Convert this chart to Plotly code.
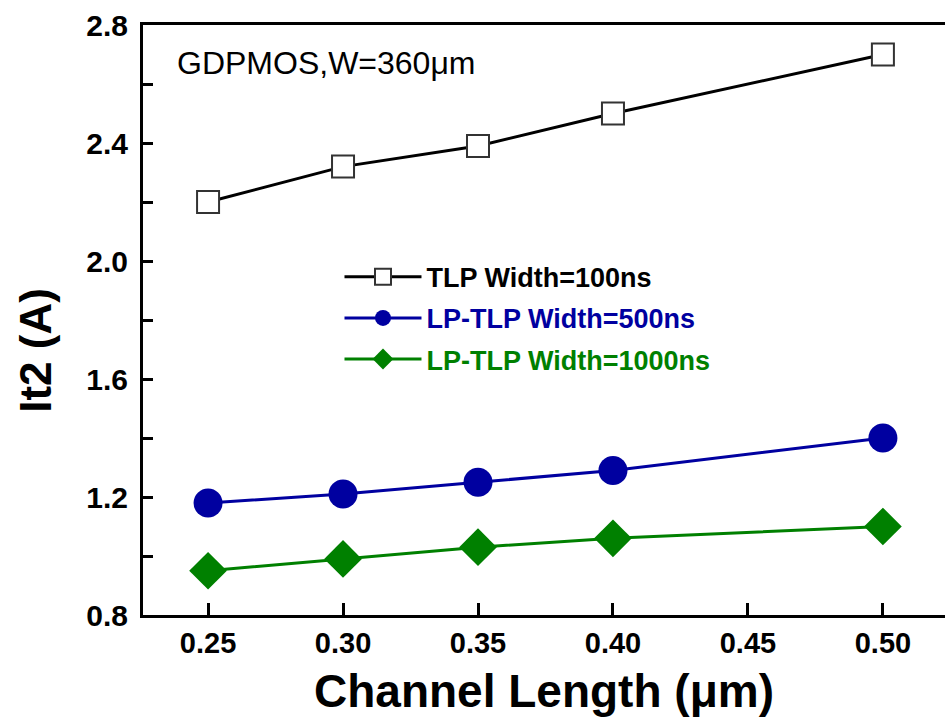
import plotly.graph_objects as go

channel_length = [0.25, 0.30, 0.35, 0.40, 0.50]
tlp_100ns = [2.20, 2.32, 2.39, 2.50, 2.70]
lptlp_500ns = [1.18, 1.21, 1.25, 1.29, 1.40]
lptlp_1000ns = [0.95, 0.99, 1.03, 1.06, 1.10]

names = ["TLP Width=100ns", "LP-TLP Width=500ns", "LP-TLP Width=1000ns"]
colors = ["#000000", "#0000A0", "#008000"]

fig = go.Figure()
fig.add_trace(go.Scatter(
    x=channel_length, y=tlp_100ns, mode="lines+markers",
    name=f'<span style="color:{colors[0]}">{names[0]}</span>', legendgroup="a",
    line=dict(color=colors[0], width=3),
    marker=dict(symbol="square", size=22, color="white", line=dict(color="#333", width=2))))
fig.add_trace(go.Scatter(
    x=channel_length, y=lptlp_500ns, mode="lines+markers",
    name=f'<span style="color:{colors[1]}">{names[1]}</span>', legendgroup="b",
    line=dict(color=colors[1], width=3),
    marker=dict(symbol="circle", size=29, color=colors[1])))
fig.add_trace(go.Scatter(
    x=channel_length, y=lptlp_1000ns, mode="lines+markers",
    name=f'<span style="color:{colors[2]}">{names[2]}</span>', legendgroup="c",
    line=dict(color=colors[2], width=3),
    marker=dict(symbol="diamond", size=29, color=colors[2])))

font_family = "Liberation Sans, Arial, sans-serif"
fig.update_layout(
    width=945, height=724,
    margin=dict(l=143, r=0, t=25, b=109),
    paper_bgcolor="white", plot_bgcolor="white",
    showlegend=True,
    legend=dict(x=0.245, y=0.503, xanchor="left", yanchor="middle",
                font=dict(family=font_family, size=27, color="black", weight="bold"),
                bgcolor="rgba(0,0,0,0)", traceorder="grouped", tracegroupgap=3,
                itemwidth=77),
    xaxis=dict(range=[0.2259, 0.5230], tickvals=[0.25, 0.30, 0.35, 0.40, 0.45, 0.50],
               ticktext=["0.25", "0.30", "0.35", "0.40", "0.45", "0.50"],
               ticks="inside", ticklen=12, tickwidth=3, tickcolor="black",
               showline=True, linecolor="black", linewidth=3, mirror=True,
               showgrid=False, zeroline=False,
               tickfont=dict(family=font_family, size=29, color="black", weight="bold"),
               title=dict(text="Channel Length (μm)", standoff=18,
                          font=dict(family=font_family, size=46, color="black", weight="bold"))),
    yaxis=dict(range=[0.8, 2.8], tickvals=[0.8, 1.2, 1.6, 2.0, 2.4, 2.8],
               ticktext=["0.8", "1.2", "1.6", "2.0", "2.4", "2.8"],
               ticks="inside", ticklen=10, tickwidth=3, tickcolor="black",
               ticklabelstandoff=6,
               minor=dict(dtick=0.2, ticks="inside", ticklen=10, tickwidth=3, tickcolor="black", showgrid=False),
               showline=True, linecolor="black", linewidth=3, mirror=False,
               showgrid=False, zeroline=False,
               tickfont=dict(family=font_family, size=30, color="black", weight="bold")),
    annotations=[
        dict(text="GDPMOS,W=360μm", xref="paper", yref="paper", x=0.04, y=0.935,
             xanchor="left", yanchor="middle", showarrow=False,
             font=dict(family=font_family, size=32, color="black")),
        dict(text="<b>It2 (A)</b>", xref="paper", yref="paper", x=-0.135, y=0.449,
             xanchor="center", yanchor="middle", textangle=-90, showarrow=False,
             font=dict(family=font_family, size=44, color="black")),
    ],
)

fig.write_html("out.html")
